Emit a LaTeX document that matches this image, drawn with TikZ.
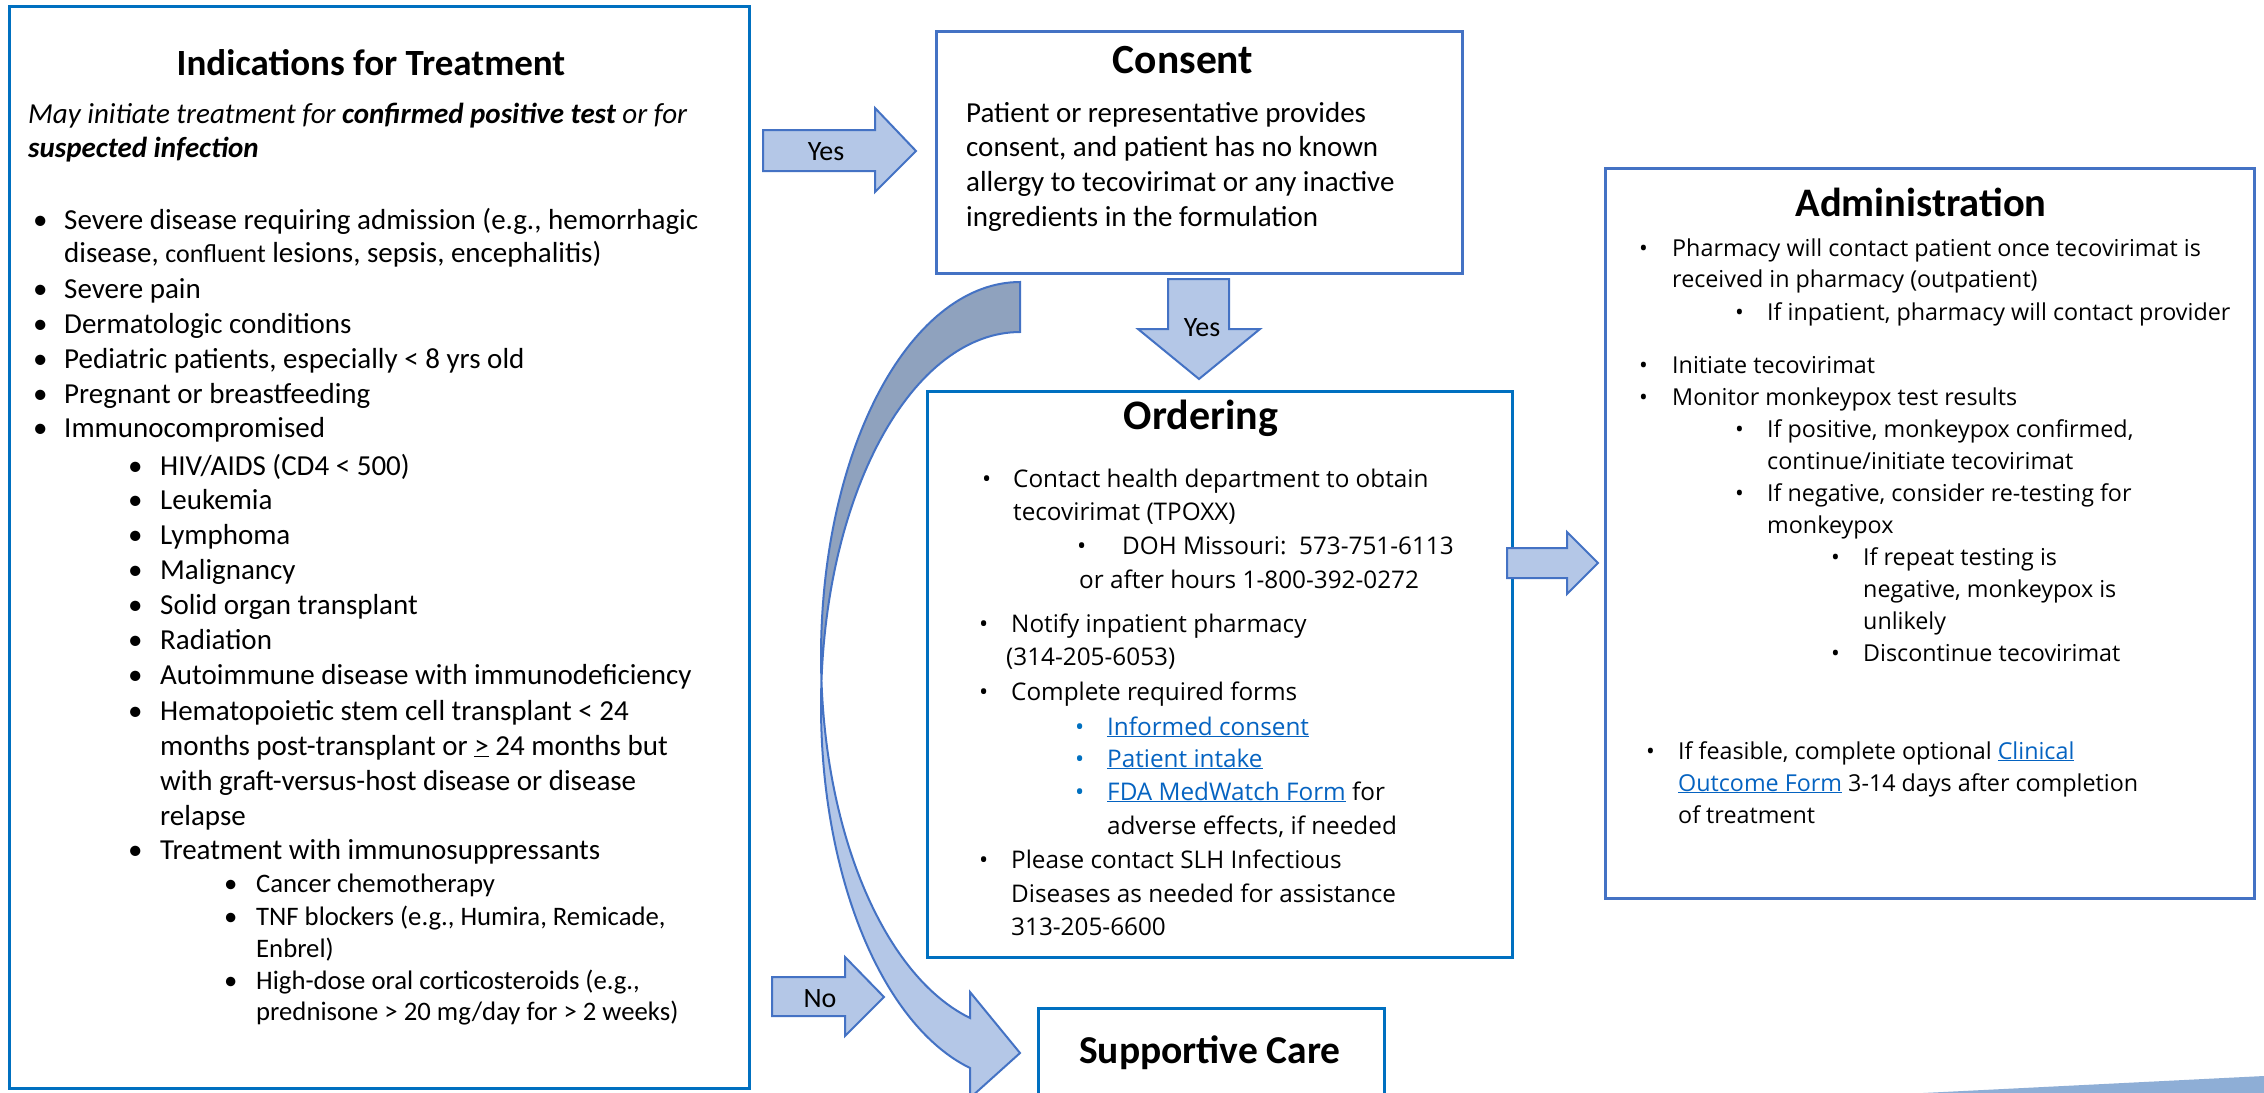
\documentclass[tikz,border=0pt]{standalone}
\usepackage{fontspec}
\setmainfont{Carlito}
\newfontfamily\seg{Open Sans}
\definecolor{afill}{HTML}{B4C7E7}
\definecolor{aline}{HTML}{4472C4}
\definecolor{bline}{HTML}{0070C0}
\definecolor{adark}{HTML}{8FA2BE}
\definecolor{lnk}{HTML}{0563C1}
\definecolor{wedge}{HTML}{8EAED6}
\newcommand\fCal{\fontsize{29}{35}\selectfont}
\newcommand\fCalS{\fontsize{26.7}{32}\selectfont}
\newcommand\fSeg{\seg\fontsize{24.3}{30}\selectfont}
\newcommand\fSegA{\seg\fontsize{23.3}{30}\selectfont}
\newcommand\tCal[1]{\bfseries\fontsize{#1}{44}\selectfont}
\newcommand\lk[1]{\textcolor{lnk}{\underline{#1}}}
\newcommand\itm[6]{\node[#1] (#2d) at (#3,#5) {•}; \node[#1] (#2) at (#4,#5) {#6};}
\newcommand\bitm[6]{\node[#1, text=bline] (#2d) at (#3,#5) {•}; \node[#1] (#2) at (#4,#5) {#6};}
\newcommand\lin[5]{\node[#1] (#2) at (#3,#4) {#5};}
\tikzset{
  boxA/.style={draw=aline, line width=3pt, inner sep=0pt},
  boxB/.style={draw=bline, line width=3pt, inner sep=0pt},
  blockarrow/.style={fill=afill, draw=aline, line width=2pt, line join=miter},
  cal/.style={anchor=base west, inner sep=0pt, font=\fCal},
  calS/.style={anchor=base west, inner sep=0pt, font=\fCalS},
  seg/.style={anchor=base west, inner sep=0pt, font=\fSeg},
  segA/.style={anchor=base west, inner sep=0pt, font=\fSegA},
  ttl/.style={anchor=base, inner sep=0pt},
  albl/.style={anchor=base, inner sep=0pt, font=\fontsize{28}{34}\selectfont},
}
\begin{document}
\begin{tikzpicture}[x=1pt,y=-1pt]
\useasboundingbox (0,0) rectangle (2264,1092);
\fill[white] (0,0) rectangle (2264,1092);
\clip (0,0) rectangle (2264,1092);

% boxes
\node[boxB, minimum width=740pt, minimum height=1082pt] (ind) at (379,547) {};
\node[boxA, minimum width=526pt, minimum height=242pt] (consent) at (1199,152) {};
\node[boxB, minimum width=585pt, minimum height=566pt] (order) at (1219.5,674) {};
\node[boxA, minimum width=649pt, minimum height=730pt] (admin) at (1929.5,533) {};
\node[boxB, minimum width=346pt, minimum height=102pt] (supp) at (1211,1059) {};

% bottom-right wedge
\fill[wedge] (1923,1093) -- (2264,1076) -- (2264,1093) -- cycle;

% block arrows
\draw[blockarrow] (763,130) -- (875,130) -- (875,108) -- (916,151) -- (875,192) -- (875,171) -- (763,171) -- cycle;
\node[albl] (yes1) at (826,160) {Yes};
\draw[blockarrow] (1168,279) -- (1229,279) -- (1229,329) -- (1260,329) -- (1199,379) -- (1138,329) -- (1168,329) -- cycle;
\node[albl] (yes2) at (1202,336) {Yes};
\draw[blockarrow] (772,977) -- (845,977) -- (845,957) -- (884,997) -- (845,1036) -- (845,1016) -- (772,1016) -- cycle;
\node[albl] (no1) at (820,1007) {No};
\draw[blockarrow] (1507,548) -- (1567,548) -- (1567,532) -- (1598,563) -- (1567,594) -- (1567,578) -- (1507,578) -- cycle;

% curved arrow (twisted ribbon: two equal ellipses 50 apart)
\def\curvepath{plot[domain=0:165.45, samples=120, variable=\t] ({1020-199*sin(\t)},{656-374*cos(\t)})
 -- (970,992) -- (1020,1053) -- (970,1098)
 -- plot[domain=165.45:0, samples=120, variable=\t] ({1020-199*sin(\t)},{706-374*cos(\t)}) -- cycle}
\fill[afill] \curvepath;
\fill[adark] plot[domain=0:93.83, samples=80, variable=\t] ({1020-199*sin(\t)},{656-374*cos(\t)})
 -- plot[domain=86.17:0, samples=80, variable=\t] ({1020-199*sin(\t)},{706-374*cos(\t)}) -- cycle;
\draw[aline, line width=2pt, line join=miter] \curvepath;

% Indications
\node[ttl, font=\tCal{37}] (t1) at (371,75) {Indications for Treatment};
\lin{cal}{i0a}{28}{123}{\itshape May initiate treatment for \textbf{confirmed positive test} or for}
\lin{cal}{i0b}{28}{157}{\itshape\bfseries suspected infection}
\itm{cal}{a1}{33}{64}{229}{Severe disease requiring admission (e.g., hemorrhagic}
\lin{cal}{a1b}{64}{262}{disease, {\fontsize{26}{30}\selectfont confluent} lesions, sepsis, encephalitis)}
\itm{cal}{a2}{33}{64}{298}{Severe pain}
\itm{cal}{a3}{33}{64}{333}{Dermatologic conditions}
\itm{cal}{a4}{33}{64}{368}{Pediatric patients, especially < 8 yrs old}
\itm{cal}{a5}{33}{64}{403}{Pregnant or breastfeeding}
\itm{cal}{a6}{33}{64}{437}{Immunocompromised}
\itm{cal}{s1}{128}{160}{475}{HIV/AIDS (CD4 < 500)}
\itm{cal}{s2}{128}{160}{509}{Leukemia}
\itm{cal}{s3}{128}{160}{544}{Lymphoma}
\itm{cal}{s4}{128}{160}{579}{Malignancy}
\itm{cal}{s5}{128}{160}{614}{Solid organ transplant}
\itm{cal}{s6}{128}{160}{649}{Radiation}
\itm{cal}{s7}{128}{160}{684}{Autoimmune disease with immunodeficiency}
\itm{cal}{s8}{128}{160}{720}{Hematopoietic stem cell transplant < 24}
\lin{cal}{s8b}{160}{755}{months post-transplant or \underline{>} 24 months but}
\lin{cal}{s8c}{160}{790}{with graft-versus-host disease or disease}
\lin{cal}{s8d}{160}{825}{relapse}
\itm{cal}{s9}{128}{160}{859}{Treatment with immunosuppressants}
\itm{calS}{u1}{224}{256}{892}{Cancer chemotherapy}
\itm{calS}{u2}{224}{256}{925}{TNF blockers (e.g., Humira, Remicade,}
\lin{calS}{u2b}{256}{957}{Enbrel)}
\itm{calS}{u3}{224}{256}{989}{High-dose oral corticosteroids (e.g.,}
\lin{calS}{u3b}{256}{1020}{prednisone > 20 mg/day for > 2 weeks)}

% Consent
\node[ttl, font=\tCal{41.5}] (tc) at (1183,73) {Consent};
\lin{cal}{c1}{966}{122}{Patient or representative provides}
\lin{cal}{c2}{966}{156}{consent, and patient has no known}
\lin{cal}{c3}{966}{191}{allergy to tecovirimat or any inactive}
\lin{cal}{c4}{966}{226}{ingredients in the formulation}

% Ordering
\node[ttl, font=\tCal{42}] (to) at (1201,429) {Ordering};
\itm{seg}{o1}{982}{1013}{487}{Contact health department to obtain}
\lin{seg}{o1b}{1013}{520}{tecovirimat (TPOXX)}
\itm{seg}{o2}{1077}{1122}{554}{DOH Missouri:\ \ 573-751-6113}
\lin{seg}{o2b}{1079}{588}{or after hours 1-800-392-0272}
\itm{seg}{o3}{979}{1011}{632}{Notify inpatient pharmacy}
\lin{seg}{o3b}{1006}{665}{(314-205-6053)}
\itm{seg}{o4}{979}{1011}{700}{Complete required forms}
\bitm{seg}{o5}{1075}{1107}{735}{\lk{Informed consent}}
\bitm{seg}{o6}{1075}{1107}{767}{\lk{Patient intake}}
\bitm{seg}{o7}{1075}{1107}{800}{\lk{FDA MedWatch Form} for}
\lin{seg}{o7b}{1107}{834}{adverse effects, if needed}
\itm{seg}{o8}{979}{1011}{868}{Please contact SLH Infectious}
\lin{seg}{o8b}{1011}{902}{Diseases as needed for assistance}
\lin{seg}{o8c}{1011}{935}{313-205-6600}

% Administration
\node[ttl, font=\tCal{40.5}] (ta) at (1921,216) {Administration};
\itm{segA}{d1}{1639}{1672}{256}{Pharmacy will contact patient once tecovirimat is}
\lin{segA}{d1b}{1672}{287}{received in pharmacy (outpatient)}
\itm{segA}{d2}{1735}{1767}{320}{If inpatient, pharmacy will contact provider}
\itm{segA}{d3}{1639}{1672}{373}{Initiate tecovirimat}
\itm{segA}{d4}{1639}{1672}{405}{Monitor monkeypox test results}
\itm{segA}{d5}{1735}{1767}{437}{If positive, monkeypox confirmed,}
\lin{segA}{d5b}{1767}{469}{continue/initiate tecovirimat}
\itm{segA}{d6}{1735}{1767}{501}{If negative, consider re-testing for}
\lin{segA}{d6b}{1767}{533}{monkeypox}
\itm{segA}{d7}{1831}{1863}{565}{If repeat testing is}
\lin{segA}{d7b}{1863}{597}{negative, monkeypox is}
\lin{segA}{d7c}{1863}{629}{unlikely}
\itm{segA}{d8}{1831}{1863}{661}{Discontinue tecovirimat}
\itm{segA}{d9}{1646}{1678}{759}{If feasible, complete optional \lk{Clinical}}
\lin{segA}{d9b}{1678}{791}{\lk{Outcome Form} 3-14 days after completion}
\lin{segA}{d9c}{1678}{823}{of treatment}

% Supportive care
\node[ttl, font=\tCal{39.5}] (tsc) at (1210,1063) {Supportive Care};
\end{tikzpicture}
\end{document}
